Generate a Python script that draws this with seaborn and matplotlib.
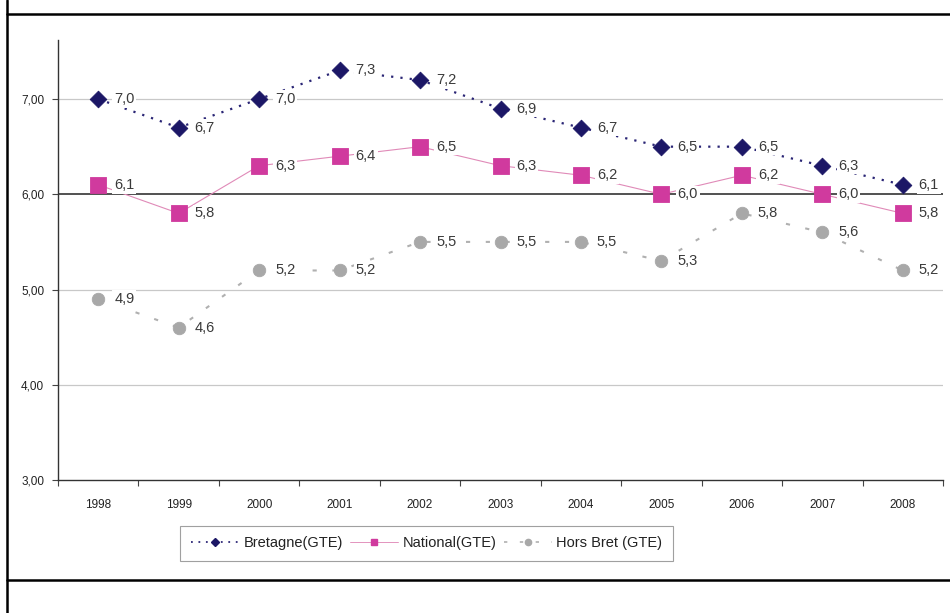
import matplotlib
matplotlib.use("Agg")
import matplotlib.pyplot as plt
from matplotlib.lines import Line2D
from matplotlib.ticker import FuncFormatter, FixedLocator
import seaborn as sns

# Values per year (GTE)
years = ["1998", "1999", "2000", "2001", "2002", "2003", "2004", "2005", "2006", "2007", "2008"]
bretagne = [7.0, 6.7, 7.0, 7.3, 7.2, 6.9, 6.7, 6.5, 6.5, 6.3, 6.1]
national = [6.1, 5.8, 6.3, 6.4, 6.5, 6.3, 6.2, 6.0, 6.2, 6.0, 5.8]
hors_bret = [4.9, 4.6, 5.2, 5.2, 5.5, 5.5, 5.5, 5.3, 5.8, 5.6, 5.2]
series_names = ["Bretagne(GTE)", "National(GTE)", "Hors Bret (GTE)"]
y_ticks = [3, 4, 5, 6, 7]

sns.set_theme(style="white")
plt.rcParams["font.family"] = ["Liberation Sans", "DejaVu Sans"]

fig = plt.figure(figsize=(9.5, 6.13), dpi=100)
ax = fig.add_axes([58 / 950, 1 - 480 / 613, (943 - 58) / 950, (480 - 40) / 613])

styles = [
    dict(values=bretagne, color="#1c1766", line="#2a2575", marker="D", ms=8.5,
         ls=(0, (1.0, 3.2)), lw=1.6, name=series_names[0]),
    dict(values=national, color="#d03a9e", line="#e08ab8", marker="s", ms=12,
         ls="-", lw=0.8, name=series_names[1]),
    dict(values=hors_bret, color="#a8a8a8", line="#b0b0b0", marker="o", ms=9,
         ls=(0, (2.0, 7.5)), lw=1.5, name=series_names[2]),
]

for st in styles:
    sns.lineplot(x=years, y=st["values"], ax=ax, color=st["line"], linestyle=st["ls"],
                 linewidth=st["lw"], marker=None, label=st["name"], zorder=2, sort=False)

# Value labels with a white background, then markers above them
for st in styles:
    for i, v in enumerate(st["values"]):
        ax.annotate(f"{v:.1f}".replace(".", ","), (i, v), xytext=(11.5, 0),
                    textcoords="offset points", ha="left", va="center",
                    fontsize=10.5, color="#3a3a3a", zorder=3,
                    bbox=dict(boxstyle="square,pad=0.12", fc="white", ec="none"))
    sns.scatterplot(x=years, y=st["values"], ax=ax, marker=st["marker"],
                    s=st["ms"] ** 2, color=st["color"], edgecolor=st["color"],
                    linewidth=0.6, zorder=4, legend=False)

# Axes styling
ax.set_xlim(-0.5, len(years) - 0.5)
ax.set_ylim(3, 7.62)
ax.set_yticks(y_ticks)
ax.yaxis.set_major_formatter(FuncFormatter(lambda v, p: f"{v:.2f}".replace(".", ",")))
ax.set_xticks(range(len(years)))
ax.set_xticklabels(years)
ax.xaxis.set_minor_locator(FixedLocator([i + 0.5 for i in range(-1, len(years))]))
ax.tick_params(axis="x", which="major", length=0, pad=14, labelsize=8.5, labelcolor="#222222")
ax.tick_params(axis="x", which="minor", length=4, width=0.8, color="#444444", direction="out",
               bottom=True)
ax.tick_params(axis="y", which="major", length=4, width=0.8, color="#444444", pad=6,
               labelsize=8.5, labelcolor="#222222", left=True)
ax.set_xlabel("")
ax.set_ylabel("")

for yv in y_ticks[1:]:
    ax.axhline(yv, color="#222222" if yv == 6 else "#c8c8c8",
               linewidth=1.1 if yv == 6 else 0.9, zorder=1)

for side in ["top", "right"]:
    ax.spines[side].set_visible(False)
for side in ["left", "bottom"]:
    ax.spines[side].set_color("#333333")
    ax.spines[side].set_linewidth(1.0)

# Legend below the plot area
leg_handles = []
for st in styles:
    leg_handles.append(Line2D([], [], color=st["line"], linestyle=st["ls"],
                              linewidth=st["lw"] * 0.8, marker=st["marker"],
                              markersize=4.5, markerfacecolor=st["color"],
                              markeredgecolor=st["color"]))
ax.legend(leg_handles, series_names, loc="center", ncol=3,
          bbox_to_anchor=(426.5 / 950, 1 - 543.5 / 613), bbox_transform=fig.transFigure,
          frameon=True, fancybox=False, edgecolor="#888888", fontsize=10.5,
          handlelength=3.3, columnspacing=0.5, handletextpad=0.3,
          borderpad=0.75, borderaxespad=0)
leg = ax.get_legend()
leg.get_frame().set_linewidth(0.8)
for t in leg.get_texts():
    t.set_color("#222222")

# Outer frame lines
fig.add_artist(Line2D([7 / 950, 7 / 950], [0, 1], transform=fig.transFigure,
                      color="black", linewidth=1.8))
fig.add_artist(Line2D([7 / 950, 1], [1 - 14 / 613, 1 - 14 / 613], transform=fig.transFigure,
                      color="black", linewidth=1.8))
fig.add_artist(Line2D([7 / 950, 1], [1 - 580 / 613, 1 - 580 / 613], transform=fig.transFigure,
                      color="black", linewidth=1.8))

fig.savefig("out.png", dpi=100)
